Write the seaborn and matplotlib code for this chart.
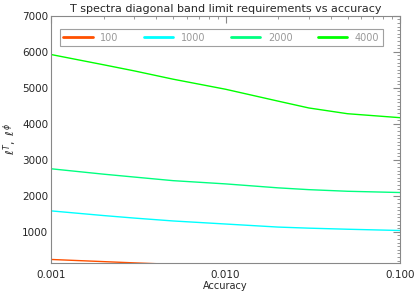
import matplotlib
matplotlib.use("Agg")
import matplotlib.pyplot as plt
import matplotlib.ticker as mticker
import numpy as np
import pandas as pd
import seaborn as sns

accuracy = [0.001, 0.002, 0.003, 0.005, 0.01, 0.02, 0.03, 0.05, 0.1]
band_100 = [230, 170, 135, 95, 70, 50, 42, 35, 30]
band_1000 = [1580, 1450, 1380, 1300, 1215, 1130, 1100, 1070, 1035]
band_2000 = [2750, 2600, 2520, 2420, 2330, 2220, 2170, 2125, 2090]
band_4000 = [5925, 5640, 5470, 5240, 4960, 4630, 4440, 4280, 4170]
labels = ["100", "1000", "2000", "4000"]
colors = ["#ff5000", "#00ffff", "#00ff80", "#00ff00"]

rows = []
for lab, vals in zip(labels, [band_100, band_1000, band_2000, band_4000]):
    for a, v in zip(accuracy, vals):
        rows.append({"Accuracy": a, "ell": v, "band": lab})
df = pd.DataFrame(rows)

sns.set_style("white")
plt.rcParams["font.family"] = ["DejaVu Sans"]
grey = "#888888"

fig = plt.figure(figsize=(4.15, 2.96), dpi=100)
ax = fig.add_axes([0.123, 0.1125, 0.841, 0.834])
sns.lineplot(data=df, x="Accuracy", y="ell", hue="band", palette=colors,
             hue_order=labels, linewidth=1.0, ax=ax, legend=False)

ax.set_xscale("log")
ax.set_xlim(0.001, 0.1)
ax.set_ylim(140, 7000)
ax.xaxis.set_major_locator(mticker.FixedLocator([0.001, 0.01, 0.1]))
ax.xaxis.set_major_formatter(mticker.FormatStrFormatter("%.3f"))
ax.xaxis.set_minor_locator(mticker.LogLocator(subs=np.arange(2, 10)))
ax.xaxis.set_minor_formatter(mticker.NullFormatter())
ax.yaxis.set_major_locator(mticker.MultipleLocator(1000))
ax.yaxis.set_minor_locator(mticker.MultipleLocator(100))
ax.tick_params(which="both", direction="in", top=True, right=True, color=grey,
               labelsize=7.5, pad=2)
ax.tick_params(axis="x", pad=5)
ax.tick_params(which="major", length=5, width=0.8)
ax.tick_params(which="minor", length=2.5, width=0.6)
for s in ax.spines.values():
    s.set_color(grey)
    s.set_linewidth(0.8)

ax.set_title("T spectra diagonal band limit requirements vs accuracy", fontsize=8, pad=3)
ax.set_xlabel("Accuracy", fontsize=7, labelpad=1)
ax.set_ylabel(r"$\ell^T,\ \ell^\phi$", fontsize=8, fontweight="bold", labelpad=2)

handles = [plt.Line2D([], [], color=c, lw=2) for c in colors]
leg = ax.legend(handles, labels, ncol=4, loc="upper left", bbox_to_anchor=(0.012, 0.965),
                frameon=True, fancybox=False, fontsize=7, handlelength=3.0,
                handletextpad=0.8, columnspacing=2.6, borderpad=0.35)
leg.get_frame().set_edgecolor(grey)
leg.get_frame().set_linewidth(0.8)
for t in leg.get_texts():
    t.set_color("#999999")

fig.savefig("out.png", dpi=100)
